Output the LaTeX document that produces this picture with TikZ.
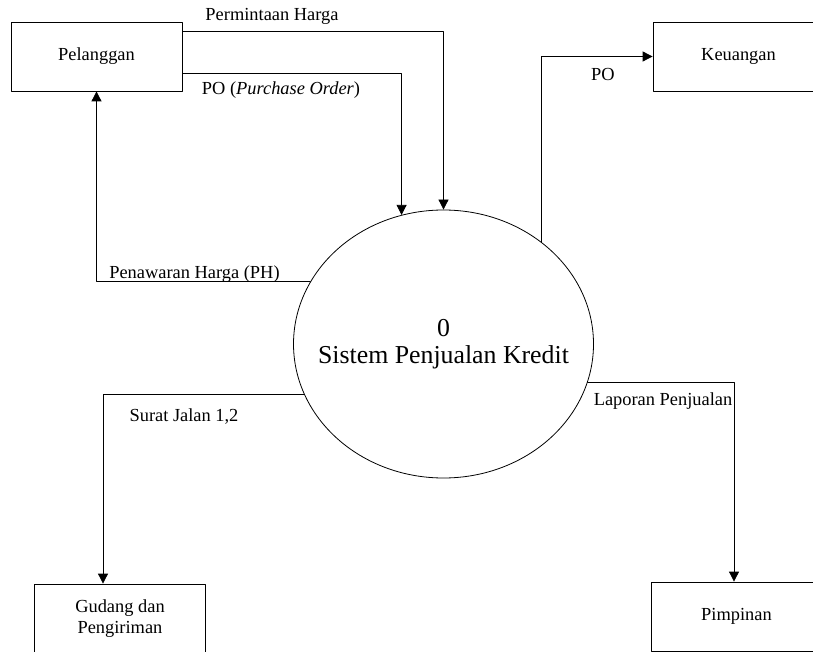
\documentclass[tikz,border=0pt]{standalone}
\usepackage{fontspec}
\setmainfont{Liberation Serif}
\usetikzlibrary{shapes.geometric,arrows.meta}
\begin{document}
\begin{tikzpicture}[x=0.5pt, y=-0.5pt, line cap=round, line join=round,
    entity/.style={draw, thin, minimum width=85.5pt, minimum height=34.5pt, inner sep=1pt, font=\fontsize{9.2}{10.4}\selectfont, align=center},
    process/.style={draw, thin, ellipse, minimum width=150pt, minimum height=134pt, inner sep=0pt},
    proctext/.style={font=\fontsize{12.9}{13.6}\selectfont, align=center},
    flow/.style={draw, thin, -{Triangle[length=5pt, width=5pt]}},
    flowlabel/.style={font=\fontsize{9.2}{10.4}\selectfont, inner sep=0pt}]
                \useasboundingbox (0, 0) rectangle (813, 652);
                \clip (0, 0) rectangle (813, 652);
                \node[entity] (pel) at (96.5, 56.5) {Pelanggan};
                \node[entity] (keu) at (738.5, 56.5) {Keuangan};
                \node[entity] (gud) at (120, 618.5) {Gudang dan\\Pengiriman};
                \node[entity] (pim) at (736.5, 616.5) {Pimpinan};
                \node[process, label={[proctext]center:0\\Sistem Penjualan Kredit}] (sys) at (443.5, 344) {};
                \draw[flow] (pel.east |- 0,31) -| (sys.north);
                \draw[flow] (pel.east |- 0,73) -| (sys.108.7);
                \draw[flow] (sys.155.9) -| (pel.south);
                \draw[flow] (sys.46.75) |- (keu.west);
                \draw[flow] (sys.200.2) -| (gud.north -| 103,0);
                \draw[flow] (sys.345.2) -| (pim.north -| 734,0);
                \foreach \name/\pos/\txt in {lperm/{272,16}/Permintaan Harga, lpo/{281,90}/{PO (\textit{Purchase Order})}, lpen/{194.5,274}/Penawaran Harga (PH), lkeu/{603,75}/PO, lsur/{184,417}/{Surat Jalan 1,2}, llap/{663,401}/Laporan Penjualan}
                    \node[flowlabel] (\name) at (\pos) {\txt};
            \end{tikzpicture}
\end{document}
